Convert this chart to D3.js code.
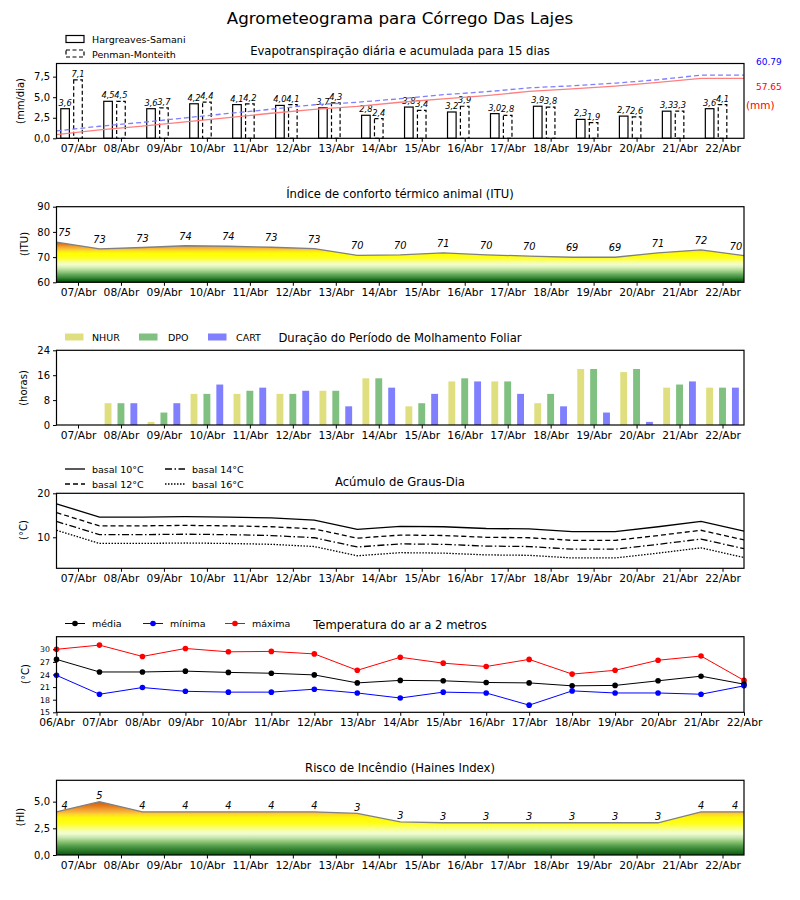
<!DOCTYPE html>
<html><head><meta charset="utf-8">
<script src="https://cdn.jsdelivr.net/npm/d3@7"></script>
<style>body{margin:0;background:#fff} svg text{font-family:"DejaVu Sans",sans-serif}</style>
</head><body><svg id="c" width="800" height="900"></svg>
<script>
// ---------- DATA ----------
const days = ["07/Abr","08/Abr","09/Abr","10/Abr","11/Abr","12/Abr","13/Abr","14/Abr","15/Abr","16/Abr","17/Abr","18/Abr","19/Abr","20/Abr","21/Abr","22/Abr"];
const tempDays = ["06/Abr","07/Abr","08/Abr","09/Abr","10/Abr","11/Abr","12/Abr","13/Abr","14/Abr","15/Abr","16/Abr","17/Abr","18/Abr","19/Abr","20/Abr","21/Abr","22/Abr"];

const etHarg = [3.6,4.5,3.6,4.2,4.1,4.0,3.7,2.8,3.8,3.2,3.0,3.9,2.3,2.7,3.3,3.6];
const etPen  = [7.1,4.5,3.7,4.4,4.2,4.1,4.3,2.4,3.4,3.9,2.8,3.8,1.9,2.6,3.3,4.1];
const cumHarg = [3.6,8.1,11.7,15.9,20.0,24.1,27.9,30.8,34.7,38.0,41.1,45.1,47.5,50.3,53.8,57.65,57.65];
const cumPen  = [7.1,11.6,15.3,19.7,23.9,28.0,32.3,34.7,38.1,42.0,44.8,48.6,50.5,53.1,56.4,60.79,60.79];
const cumTotals = ["60.79","57.65"];

const ituValues = [75.9,73.3,73.8,74.5,74.3,73.9,73.4,70.7,70.9,71.7,70.9,70.4,69.95,69.95,71.7,72.9,70.6];
const ituLabels = ["75","73","73","74","74","73","73","70","70","71","70","70","69","69","71","72","70"];

const nhur = [0,7,1,10,10,10,11,15,6,14,14,7,18,17,12,12];
const dpo  = [0,7,4,10,11,10,11,15,7,15,14,10,18,18,13,12];
const cart = [0,7,7,13,12,11,6,12,10,14,10,6,4,1,14,12];

const gd10 = [17.6,14.6,14.6,14.7,14.6,14.4,13.9,11.8,12.5,12.4,12.0,11.9,11.3,11.3,12.4,13.6,11.4];
const gd12 = [15.6,12.6,12.6,12.7,12.6,12.4,11.9,9.8,10.5,10.4,10.0,9.9,9.3,9.3,10.4,11.6,9.4];
const gd14 = [13.6,10.6,10.6,10.7,10.6,10.4,9.9,7.8,8.5,8.4,8.0,7.9,7.3,7.3,8.4,9.6,7.4];
const gd16 = [11.6,8.6,8.6,8.7,8.6,8.4,7.9,5.8,6.5,6.4,6.0,5.9,5.3,5.3,6.4,7.6,5.4];

const tMed = [27.6,24.6,24.6,24.8,24.5,24.3,23.9,22.0,22.6,22.5,22.1,22.0,21.3,21.4,22.5,23.6,21.7];
const tMin = [23.8,19.3,20.9,20.0,19.8,19.8,20.5,19.6,18.4,19.8,19.6,16.7,20.1,19.6,19.6,19.3,21.3];
const tMax = [30.0,31.0,28.3,30.2,29.4,29.5,28.9,25.0,28.1,26.7,25.9,27.6,24.1,25.0,27.4,28.4,22.6];

const hainesValues = [4.05,5.0,4.05,4.05,4.05,4.05,4.05,3.9,3.1,3.02,3.02,3.02,3.02,3.02,3.02,4.05,4.05];
const hainesLabels = ["4","5","4","4","4","4","4","3","3","3","3","3","3","3","3","4","4"];

// ---------- LAYOUT ----------
const svg = d3.select("#c");
const L = 56.5, R = 744;
const x = d3.scaleLinear([-0.5, 15.5], [L, R]);          // day index
const xp = d3.scalePoint(d3.range(17), [L, R]);           // edge points
const comma = f => v => d3.format(f)(v).replace(".", ",");
const LEG = 9.5;

function title(t, y, size=11.6){ svg.append("text").attr("x",400).attr("y",y).attr("text-anchor","middle").attr("font-size",size).text(t); }
function frame(top,bottom){ svg.append("rect").attr("x",L).attr("y",top).attr("width",R-L).attr("height",bottom-top).attr("fill","none").attr("stroke","#000").attr("stroke-width",1.2); }
function xAxis(bottom, scale, ticks, fmt){
  svg.append("g").attr("transform",`translate(0,${bottom})`)
    .call(d3.axisBottom(scale).tickValues(ticks).tickFormat(fmt).tickSize(3.5).tickPadding(3))
    .call(g=>g.select(".domain").remove())
    .call(g=>g.selectAll("text").attr("font-size",10.7).attr("font-family","DejaVu Sans"));
}
function yAxis(scale, ticks, fmt, size=10){
  svg.append("g").attr("transform",`translate(${L},0)`)
    .call(d3.axisLeft(scale).tickValues(ticks).tickFormat(fmt).tickSize(3.5).tickPadding(3))
    .call(g=>g.select(".domain").remove())
    .call(g=>g.selectAll("text").attr("font-size",size).attr("font-family","DejaVu Sans"));
}
function yLabel(t, cx, cy){ svg.append("text").attr("transform",`translate(${cx},${cy}) rotate(-90)`).attr("text-anchor","middle").attr("dominant-baseline","central").attr("font-size",10).text(t); }
function gradient(id, scale, stops){
  const lg = svg.append("defs").append("linearGradient").attr("id",id).attr("gradientUnits","userSpaceOnUse")
    .attr("x1",0).attr("x2",0).attr("y1",scale(stops[0][0])).attr("y2",scale(stops[stops.length-1][0]));
  const v0 = stops[0][0], v1 = stops[stops.length-1][0];
  stops.forEach(([v,c])=>lg.append("stop").attr("offset",(v-v0)/(v1-v0)).attr("stop-color",c));
}

title("Agrometeograma para Córrego Das Lajes", 24, 16.7);

// ---------- PANEL 1: ET ----------
{
  const top=63.5, bot=138.3;
  const y = d3.scaleLinear([0,9.1],[bot,top]);
  const y2 = d3.scaleLinear([0,72],[bot,top]);
  const bw = x(0.2)-x(0);
  svg.append("g").selectAll("rect").data(etHarg).join("rect")
    .attr("x",(d,i)=>x(i-0.3)-bw/2).attr("y",d=>y(d)).attr("width",bw).attr("height",d=>bot-y(d))
    .attr("fill","#fff").attr("stroke","#000").attr("stroke-width",1.2);
  svg.append("g").selectAll("rect").data(etPen).join("rect")
    .attr("x",(d,i)=>x(i)-bw/2).attr("y",d=>y(d)).attr("width",bw).attr("height",d=>bot-y(d))
    .attr("fill","#fff").attr("stroke","#000").attr("stroke-width",1.2).attr("stroke-dasharray","4,2.5");
  svg.append("g").selectAll("text").data(etHarg).join("text")
    .attr("x",(d,i)=>x(i-0.3)).attr("y",d=>y(d)-3).attr("text-anchor","middle").attr("font-size",8.3).attr("font-style","italic").text(comma(".1f"));
  svg.append("g").selectAll("text").data(etPen).join("text")
    .attr("x",(d,i)=>x(i)).attr("y",d=>y(d)-3).attr("text-anchor","middle").attr("font-size",8.3).attr("font-style","italic").text(comma(".1f"));
  const ln = d3.line().x((d,i)=>xp(i)).y(d=>y2(d));
  svg.append("path").attr("d",ln(cumHarg)).attr("fill","none").attr("stroke","#ff7f7f").attr("stroke-width",1.3);
  svg.append("path").attr("d",ln(cumPen)).attr("fill","none").attr("stroke","#7f7fff").attr("stroke-width",1.3).attr("stroke-dasharray","5,3");
  svg.append("text").attr("x",756).attr("y",65).attr("font-size",9).attr("fill","#0000ff").text(cumTotals[0]);
  svg.append("text").attr("x",756).attr("y",90).attr("font-size",9).attr("fill","#ff0000").text(cumTotals[1]);
  svg.append("text").attr("x",746).attr("y",109).attr("font-size",10.5).attr("fill","#ff0000").text("(mm)");
  yAxis(y,[0,2.5,5,7.5],comma(".1f"));
  xAxis(bot,x,d3.range(16),i=>days[i]);
  yLabel("(mm/dia)",20,101);
  frame(top,bot);
  title("Evapotranspiração diária e acumulada para 15 dias", 55);
  svg.append("rect").attr("x",66).attr("y",35.5).attr("width",18).attr("height",7).attr("fill","#fff").attr("stroke","#000").attr("stroke-width",1.2);
  svg.append("rect").attr("x",66).attr("y",50).attr("width",18).attr("height",7).attr("fill","#fff").attr("stroke","#000").attr("stroke-width",1.2).attr("stroke-dasharray","4,2.5");
  svg.append("text").attr("x",92).attr("y",42.5).attr("font-size",LEG).text("Hargreaves-Samani");
  svg.append("text").attr("x",92).attr("y",57.5).attr("font-size",LEG).text("Penman-Monteith");
}

// ---------- PANEL 2: ITU ----------
{
  const top=206.7, bot=282.3;
  const y = d3.scaleLinear([60,90],[bot,top]);
  gradient("gITU", y, [[60,"#004d00"],[61,"#1b6b1b"],[62,"#3f8f3f"],[63,"#62a85a"],[64,"#8cc47a"],[65,"#b4dc98"],[66,"#d8f0b8"],[67,"#f0fcd0"],[68,"#f6ff9c"],[69,"#fcff50"],[70,"#ffff14"],[71.5,"#ffff00"],[72.3,"#ffe81c"],[73,"#fbc832"],[74,"#f2a82e"],[75,"#e57e1e"],[76,"#d65e12"]]);
  const area = d3.area().x((d,i)=>xp(i)).y0(bot).y1(d=>y(d));
  svg.append("path").attr("d",area(ituValues)).attr("fill","url(#gITU)");
  svg.append("path").attr("d",d3.line().x((d,i)=>xp(i)).y(d=>y(d))(ituValues)).attr("fill","none").attr("stroke","#808080").attr("stroke-width",1.3);
  svg.append("g").selectAll("text").data(ituLabels).join("text")
    .attr("x",(d,i)=>xp(i)+(i===0?8:i===16?-8:0)).attr("y",(d,i)=>y(ituValues[i])-6)
    .attr("text-anchor","middle").attr("font-size",9.8).attr("font-style","italic").text(d=>d);
  yAxis(y,[60,70,80,90],d3.format("d"));
  xAxis(bot,x,d3.range(16),i=>days[i]);
  yLabel("(ITU)",24,244);
  frame(top,bot);
  title("Índice de conforto térmico animal (ITU)", 198);
}

// ---------- PANEL 3: Molhamento ----------
{
  const top=350.3, bot=425;
  const y = d3.scaleLinear([0,24],[bot,top]);
  const bw = x(0.16)-x(0);
  const series = [[nhur,-0.3,"#dfdf80"],[dpo,0,"#80c080"],[cart,0.3,"#8080ff"]];
  series.forEach(([vals,off,col])=>{
    svg.append("g").selectAll("rect").data(vals).join("rect")
      .attr("x",(d,i)=>x(i+off)-bw/2).attr("y",d=>y(d)).attr("width",bw).attr("height",d=>bot-y(d)).attr("fill",col);
  });
  yAxis(y,[0,8,16,24],d3.format("d"));
  xAxis(bot,x,d3.range(16),i=>days[i]);
  yLabel("(horas)",23,388);
  frame(top,bot);
  title("Duração do Período de Molhamento Foliar", 341.5);
  const leg = [["NHUR","#dfdf80",65,92],["DPO","#80c080",139,168],["CART","#8080ff",208,236]];
  leg.forEach(([t,c,rx,tx])=>{
    svg.append("rect").attr("x",rx).attr("y",333.5).attr("width",18.5).attr("height",7).attr("fill",c);
    svg.append("text").attr("x",tx).attr("y",340.8).attr("font-size",LEG).text(t);
  });
}

// ---------- PANEL 4: Graus-Dia ----------
{
  const top=493.3, bot=568.3;
  const y = d3.scaleLinear([2.95,20],[bot,top]);
  const ln = d3.line().x((d,i)=>xp(i)).y(d=>y(d));
  const styles = [[gd10,null,"basal 10°C",65,469],[gd12,"5,3","basal 12°C",65,484],[gd14,"7,2.5,1.5,2.5","basal 14°C",165,469],[gd16,"1.5,1.5","basal 16°C",165,484]];
  styles.forEach(([vals,dash,lab,lx,ly])=>{
    svg.append("path").attr("d",ln(vals)).attr("fill","none").attr("stroke","#000").attr("stroke-width",1.3).attr("stroke-dasharray",dash);
    svg.append("line").attr("x1",lx).attr("x2",lx+20).attr("y1",ly).attr("y2",ly).attr("stroke","#000").attr("stroke-width",1.3).attr("stroke-dasharray",dash);
    svg.append("text").attr("x",lx+27).attr("y",ly+3.5).attr("font-size",LEG).text(lab);
  });
  yAxis(y,[10,20],d3.format("d"));
  xAxis(bot,x,d3.range(16),i=>days[i]);
  yLabel("(°C)",23,530);
  frame(top,bot);
  title("Acúmulo de Graus-Dia", 485.5);
}

// ---------- PANEL 5: Temperatura ----------
{
  const top=636.7, bot=712.3;
  const y = d3.scaleLinear([15,33],[bot,top]);
  const ln = d3.line().x((d,i)=>xp(i)).y(d=>y(d));
  const ser = [[tMax,"#ff0000"],[tMed,"#000000"],[tMin,"#0000ff"]];
  ser.forEach(([vals,c])=>{
    svg.append("path").attr("d",ln(vals)).attr("fill","none").attr("stroke",c).attr("stroke-width",1);
    svg.append("g").selectAll("circle").data(vals).join("circle").attr("cx",(d,i)=>xp(i)).attr("cy",d=>y(d)).attr("r",2.8).attr("fill",c);
  });
  yAxis(y,[15,18,21,24,27,30],d3.format("d"),7.8);
  xAxis(bot,xp,d3.range(17),i=>tempDays[i]);
  yLabel("(°C)",25,674);
  frame(top,bot);
  title("Temperatura do ar a 2 metros", 628.5);
  const leg = [["média","#000000",65,92],["mínima","#0000ff",143,170],["máxima","#ff0000",225,252]];
  leg.forEach(([t,c,lx,tx])=>{
    svg.append("line").attr("x1",lx).attr("x2",lx+20).attr("y1",623.5).attr("y2",623.5).attr("stroke",c).attr("stroke-width",1);
    svg.append("circle").attr("cx",lx+10).attr("cy",623.5).attr("r",2.8).attr("fill",c);
    svg.append("text").attr("x",tx).attr("y",627).attr("font-size",LEG).text(t);
  });
}

// ---------- PANEL 6: Haines ----------
{
  const top=780.3, bot=855;
  const y = d3.scaleLinear([0,7],[bot,top]);
  gradient("gHI", y, [[0,"#0a560a"],[0.4,"#2a7a2a"],[0.8,"#4e9a46"],[1.2,"#86c070"],[1.6,"#c4e4a8"],[2.0,"#f0fcd8"],[2.3,"#f6ffa8"],[2.7,"#fcff50"],[3.0,"#ffff14"],[3.5,"#fff80a"],[3.8,"#ffd82a"],[4.0,"#f8b83a"],[4.3,"#f09a2c"],[4.6,"#e47a1c"],[5.0,"#d05510"]]);
  const area = d3.area().x((d,i)=>xp(i)).y0(bot).y1(d=>y(d));
  svg.append("path").attr("d",area(hainesValues)).attr("fill","url(#gHI)");
  svg.append("path").attr("d",d3.line().x((d,i)=>xp(i)).y(d=>y(d))(hainesValues)).attr("fill","none").attr("stroke","#808080").attr("stroke-width",1.3);
  svg.append("g").selectAll("text").data(hainesLabels).join("text")
    .attr("x",(d,i)=>xp(i)+(i===0?8:i===16?-9:0)).attr("y",(d,i)=>y(hainesValues[i])-2.5)
    .attr("text-anchor","middle").attr("font-size",9.8).attr("font-style","italic").text(d=>d);
  yAxis(y,[0,2.5,5],comma(".1f"));
  xAxis(bot,x,d3.range(16),i=>days[i]);
  yLabel("(HI)",20,817);
  frame(top,bot);
  title("Risco de Incêndio (Haines Index)", 771.5);
}
</script></body></html>
